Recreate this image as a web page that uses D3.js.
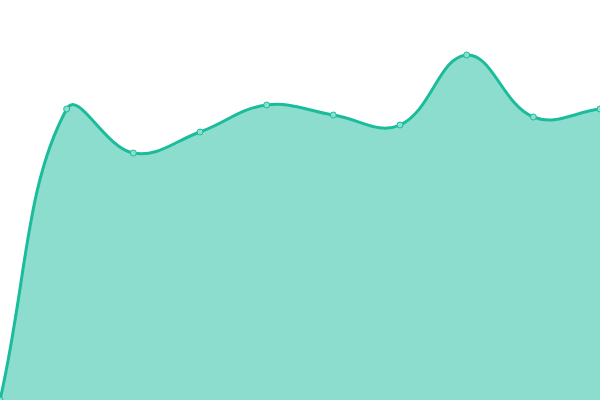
<!DOCTYPE html>
<html>
<head>
<meta charset="utf-8">
<script src="https://cdn.jsdelivr.net/npm/d3@7"></script>
<style>
  html, body { margin: 0; padding: 0; background: #fff; overflow: hidden; }
  svg { display: block; }
</style>
</head>
<body>
<svg width="600" height="400"></svg>
<script>
// data
const labels = [0, 1, 2, 3, 4, 5, 6, 7, 8, 9];
const values = [0, 291, 247, 268, 295, 285, 275, 345, 283, 291];

const width = 600, height = 400;
const svg = d3.select("svg");

const x = d3.scaleLinear()
    .domain([0, labels.length - 1])
    .range([0, width]);

const y = d3.scaleLinear()
    .domain([0, 400])
    .range([height, 0]);

const data = labels.map((l, i) => ({ l: l, v: values[i] }));

// spline with distance-weighted control points (tension 0.4), capped to the plot
function SplineCurve(context) { this._context = context; }
SplineCurve.prototype = {
    areaStart: function() { this._line = 0; },
    areaEnd: function() { this._line = NaN; },
    lineStart: function() { this._pts = []; },
    point: function(px, py) { this._pts.push([+px, +py]); },
    lineEnd: function() {
        const p = this._pts, c = this._context, n = p.length, t = 0.4;
        const clampX = v => Math.max(0, Math.min(width, v));
        const clampY = v => Math.max(0, Math.min(height, v));
        if (n) {
            if (this._line) c.lineTo(p[0][0], p[0][1]); else c.moveTo(p[0][0], p[0][1]);
            const cps = p.map((cur, i) => {
                const prev = p[i - 1] || cur, next = p[i + 1] || cur;
                const d01 = Math.hypot(cur[0] - prev[0], cur[1] - prev[1]);
                const d12 = Math.hypot(next[0] - cur[0], next[1] - cur[1]);
                let s01 = d01 / (d01 + d12), s12 = d12 / (d01 + d12);
                if (isNaN(s01)) s01 = 0;
                if (isNaN(s12)) s12 = 0;
                const fa = t * s01, fb = t * s12;
                return {
                    bx: clampX(cur[0] - fa * (next[0] - prev[0])),
                    by: clampY(cur[1] - fa * (next[1] - prev[1])),
                    ax: clampX(cur[0] + fb * (next[0] - prev[0])),
                    ay: clampY(cur[1] + fb * (next[1] - prev[1]))
                };
            });
            for (let i = 1; i < n; i++) {
                c.bezierCurveTo(cps[i - 1].ax, cps[i - 1].ay, cps[i].bx, cps[i].by, p[i][0], p[i][1]);
            }
        }
        if (this._line || (this._line !== 0 && n === 1)) c.closePath();
        this._line = 1 - this._line;
    }
};
const curve = ctx => new SplineCurve(ctx);

// area
svg.append("path")
    .datum(data)
    .attr("fill", "#1abc9c")
    .attr("fill-opacity", 0.5)
    .attr("d", d3.area()
        .x(d => x(d.l))
        .y0(height)
        .y1(d => y(d.v))
        .curve(curve));

// line
svg.append("path")
    .datum(data)
    .attr("fill", "none")
    .attr("stroke", "#1abc9c")
    .attr("stroke-width", 3)
    .attr("d", d3.line()
        .x(d => x(d.l))
        .y(d => y(d.v))
        .curve(curve));

// points
svg.selectAll("circle.pt")
    .data(data)
  .enter()
  .append("circle")
    .attr("class", "pt")
    .attr("cx", d => x(d.l))
    .attr("cy", d => y(d.v))
    .attr("r", 3)
    .attr("fill", "#8ddfcd")
    .attr("stroke", "#1abc9c")
    .attr("stroke-width", 1);
</script>
</body>
</html>
